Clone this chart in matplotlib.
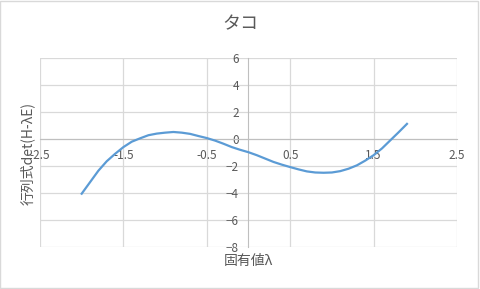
import matplotlib
matplotlib.use('Agg')
import matplotlib.pyplot as plt
from matplotlib.patches import Rectangle

plt.rcParams['font.family'] = ['Noto Sans CJK JP', 'DejaVu Sans']

# 固有値λ and det(H-λE)
lam = [-2.0, -1.9, -1.8, -1.7, -1.6, -1.5, -1.4, -1.3, -1.2, -1.1,
       -1.0, -0.9, -0.8, -0.7, -0.6, -0.5, -0.4, -0.3, -0.2, -0.1,
       0.0, 0.1, 0.2, 0.3, 0.4, 0.5, 0.6, 0.7, 0.8, 0.9,
       1.0, 1.1, 1.2, 1.3, 1.4, 1.5, 1.6, 1.7, 1.8, 1.9]
det = [-4.05, -3.2, -2.35, -1.65, -1.1, -0.6, -0.2, 0.05, 0.28, 0.4,
       0.47, 0.52, 0.47, 0.38, 0.22, 0.07, -0.12, -0.35, -0.6, -0.8,
       -0.98, -1.2, -1.45, -1.7, -1.9, -2.08, -2.25, -2.4, -2.48, -2.5,
       -2.48, -2.38, -2.2, -1.95, -1.6, -1.2, -0.7, -0.1, 0.5, 1.12]
xticks = [-2.5, -1.5, -0.5, 0.5, 1.5, 2.5]
yticks = [-8, -6, -4, -2, 0, 2, 4, 6]

fig = plt.figure(figsize=(4.8, 2.89), dpi=100)
fig.patches.append(Rectangle((0.001, 0.004), 0.994, 0.994, transform=fig.transFigure,
                             fill=False, edgecolor='#d9d9d9', linewidth=1))
ax = fig.add_axes([0.0833, 0.1453, 0.8688, 0.654])

ax.plot(lam, det, color='#5b9bd5', linewidth=1.6, zorder=3)

ax.set_xlim(-2.5, 2.5)
ax.set_ylim(-8, 6)
ax.set_xticks(xticks)
ax.set_xticklabels([str(t) for t in xticks])
ax.set_yticks(yticks)
ax.grid(True, color='#d9d9d9', linewidth=0.9)

# axes cross at origin, like the Excel chart
ax.spines['left'].set_position(('data', 0))
ax.spines['bottom'].set_position(('data', 0))
ax.spines['left'].set_color('#bfbfbf')
ax.spines['bottom'].set_color('#bfbfbf')
ax.spines['top'].set_visible(False)
ax.spines['right'].set_visible(False)
ax.tick_params(axis='both', length=0, labelsize=8.5, labelcolor='#595959')
ax.tick_params(axis='x', pad=7)
ax.tick_params(axis='y', pad=7)

fig.text(0.5, 0.915, 'タコ', ha='center', va='center', fontsize=13, color='#595959')
fig.text(0.517, 0.097, '固有値λ', ha='center', va='center', fontsize=10, color='#595959')
fig.text(0.058, 0.47, '行列式det(H-λE)', ha='center', va='center', rotation=90,
         fontsize=10, color='#595959')

fig.savefig('out.png', dpi=100)
